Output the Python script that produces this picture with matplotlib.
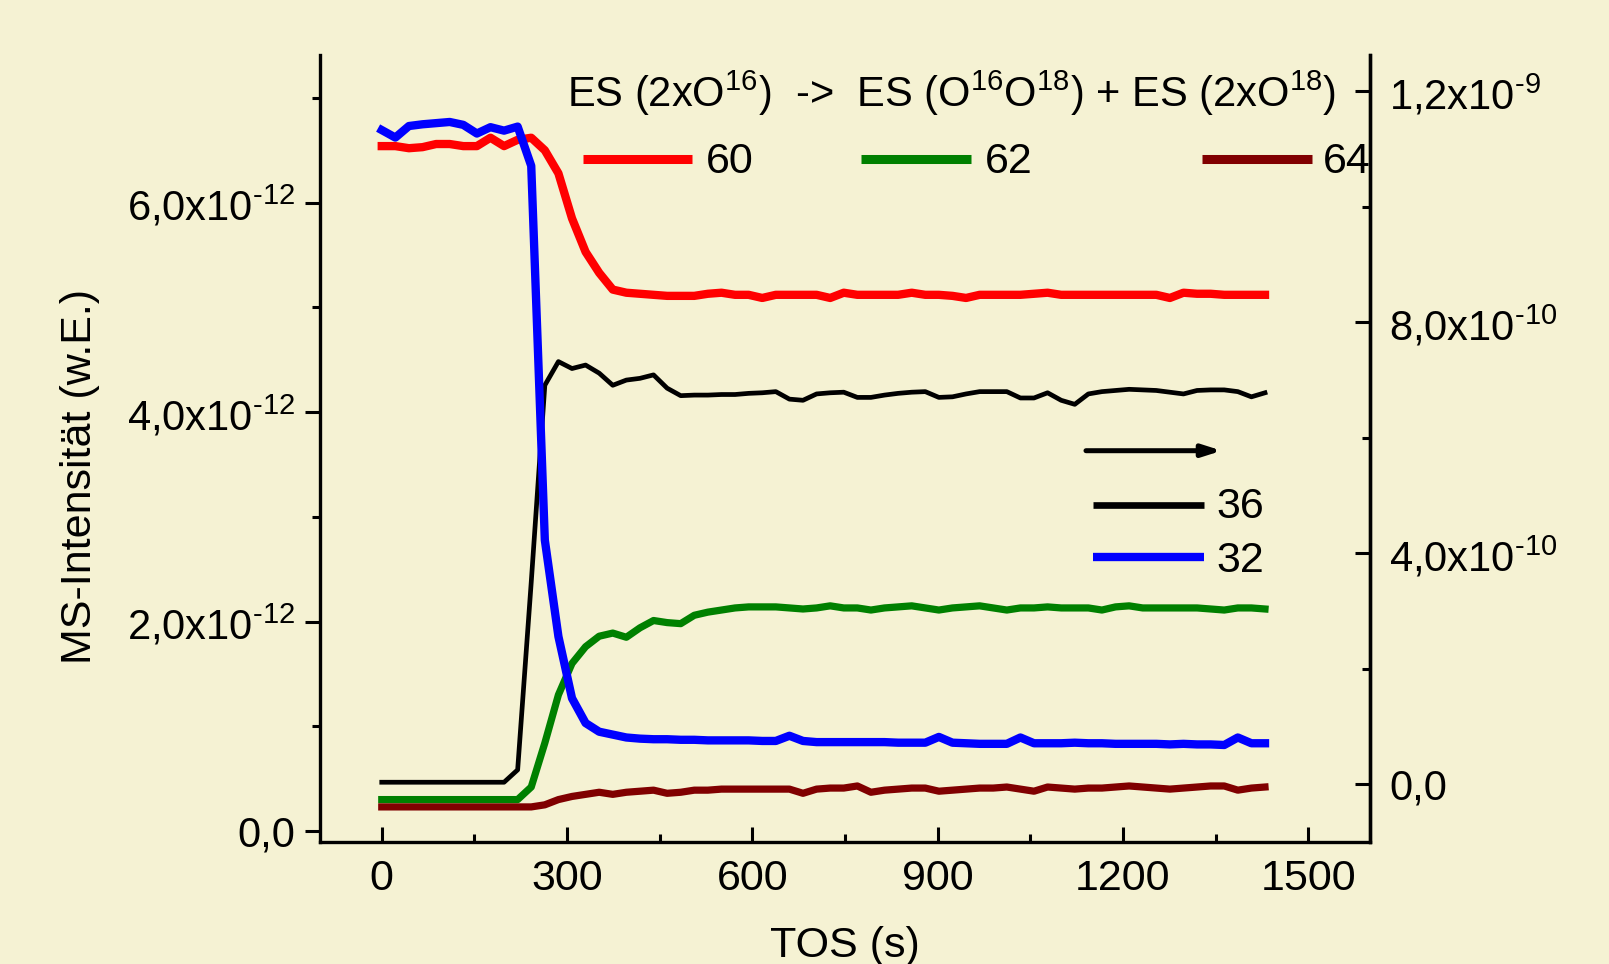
import numpy as np
import matplotlib
matplotlib.use("Agg")
import matplotlib.pyplot as plt
from matplotlib.ticker import FixedLocator, FixedFormatter, MultipleLocator

plt.rcParams["font.family"] = ["Liberation Sans", "DejaVu Sans"]
plt.rcParams["mathtext.fontset"] = "custom"
plt.rcParams["mathtext.rm"] = "Liberation Sans"
plt.rcParams["mathtext.default"] = "regular"

# time on stream (s)
tos = [0, 22, 44, 66, 88, 110, 132, 154, 176, 198, 220, 242, 264, 286, 308, 330,
       352, 374, 396, 418, 440, 462, 484, 506, 528, 550, 572, 594, 616, 638, 660,
       682, 704, 726, 748, 770, 792, 814, 836, 858, 880, 902, 924, 946, 968, 990,
       1012, 1034, 1056, 1078, 1100, 1122, 1144, 1166, 1188, 1210, 1232, 1254,
       1276, 1298, 1320, 1342, 1364, 1386, 1408, 1430]

# left axis, units of 1e-12
m60 = [6.54, 6.54, 6.52, 6.53, 6.56, 6.56, 6.54, 6.54, 6.62, 6.54, 6.60, 6.62,
       6.50, 6.28, 5.85, 5.53, 5.33, 5.17, 5.14, 5.13, 5.12, 5.11, 5.11, 5.11,
       5.13, 5.14, 5.12, 5.12, 5.09, 5.12, 5.12, 5.12, 5.12, 5.09, 5.14, 5.12,
       5.12, 5.12, 5.12, 5.14, 5.12, 5.12, 5.11, 5.09, 5.12, 5.12, 5.12, 5.12,
       5.13, 5.14, 5.12, 5.12, 5.12, 5.12, 5.12, 5.12, 5.12, 5.12, 5.09, 5.14,
       5.13, 5.13, 5.12, 5.12, 5.12, 5.12]
m62 = [0.30, 0.30, 0.30, 0.30, 0.30, 0.30, 0.30, 0.30, 0.30, 0.30, 0.30, 0.42,
       0.84, 1.30, 1.60, 1.76, 1.86, 1.89, 1.85, 1.94, 2.01, 1.99, 1.98, 2.06,
       2.09, 2.11, 2.13, 2.14, 2.14, 2.14, 2.13, 2.12, 2.13, 2.15, 2.13, 2.13,
       2.11, 2.13, 2.14, 2.15, 2.13, 2.11, 2.13, 2.14, 2.15, 2.13, 2.11, 2.13,
       2.13, 2.14, 2.13, 2.13, 2.13, 2.11, 2.14, 2.15, 2.13, 2.13, 2.13, 2.13,
       2.13, 2.12, 2.11, 2.13, 2.13, 2.12]
m64 = [0.23, 0.23, 0.23, 0.23, 0.23, 0.23, 0.23, 0.23, 0.23, 0.23, 0.23, 0.23,
       0.25, 0.30, 0.33, 0.35, 0.37, 0.35, 0.37, 0.38, 0.39, 0.36, 0.37, 0.39,
       0.39, 0.40, 0.40, 0.40, 0.40, 0.40, 0.40, 0.36, 0.40, 0.41, 0.41, 0.43,
       0.37, 0.39, 0.40, 0.41, 0.41, 0.38, 0.39, 0.40, 0.41, 0.41, 0.42, 0.40,
       0.38, 0.42, 0.41, 0.40, 0.41, 0.41, 0.42, 0.43, 0.42, 0.41, 0.40, 0.41,
       0.42, 0.43, 0.43, 0.39, 0.41, 0.42]

# right axis, units of 1e-10
m36 = [0.035, 0.035, 0.035, 0.035, 0.035, 0.035, 0.035, 0.035, 0.035, 0.035,
       0.25, 3.5, 6.91, 7.32, 7.20, 7.26, 7.12, 6.91, 7.00, 7.03, 7.09, 6.86,
       6.73, 6.74, 6.74, 6.75, 6.75, 6.77, 6.78, 6.80, 6.67, 6.65, 6.76, 6.78,
       6.79, 6.70, 6.70, 6.74, 6.77, 6.79, 6.80, 6.70, 6.71, 6.76, 6.80, 6.80,
       6.80, 6.69, 6.69, 6.78, 6.65, 6.58, 6.76, 6.80, 6.82, 6.84, 6.83, 6.82,
       6.79, 6.76, 6.82, 6.83, 6.83, 6.80, 6.71, 6.78]
m32 = [11.33, 11.20, 11.40, 11.43, 11.45, 11.47, 11.42, 11.27, 11.38, 11.32,
       11.39, 10.71, 4.23, 2.56, 1.49, 1.06, 0.91, 0.86, 0.81, 0.79, 0.78, 0.78,
       0.77, 0.77, 0.76, 0.76, 0.76, 0.76, 0.75, 0.75, 0.84, 0.75, 0.73, 0.73,
       0.73, 0.73, 0.73, 0.73, 0.72, 0.72, 0.72, 0.82, 0.72, 0.71, 0.70, 0.70,
       0.70, 0.81, 0.71, 0.71, 0.71, 0.72, 0.71, 0.71, 0.70, 0.70, 0.70, 0.70,
       0.69, 0.70, 0.69, 0.69, 0.68, 0.81, 0.71, 0.71]

HY = "\u2010"  # short hyphen as in the original exponents
left_ticks = [0, 2e-12, 4e-12, 6e-12]
left_labels = ["0,0", "2,0x10$^{%s12}$" % HY, "4,0x10$^{%s12}$" % HY,
               "6,0x10$^{%s12}$" % HY]
right_ticks = [0, 4e-10, 8e-10, 1.2e-9]
right_labels = ["0,0", "4,0x10$^{%s10}$" % HY, "8,0x10$^{%s10}$" % HY,
                "1,2x10$^{%s9}$" % HY]

bg = "#F5F2D3"
fig = plt.figure(figsize=(16.09, 9.64), dpi=100, facecolor=bg)
ax = fig.add_axes([320 / 1609, 1 - 842 / 964, 1050 / 1609, 787 / 964])
ax.set_facecolor(bg)
ax2 = ax.twinx()

t = np.array(tos)
ax.plot(t, np.array(m60) * 1e-12, color="#FF0000", lw=6)
ax.plot(t, np.array(m62) * 1e-12, color="#008000", lw=5.2)
ax.plot(t, np.array(m64) * 1e-12, color="#800000", lw=5.2)
ax2.plot(t, np.array(m36) * 1e-10, color="black", lw=3.4)
ax2.plot(t, np.array(m32) * 1e-10, color="#0000FF", lw=6)

ax.set_xlim(-100, 1600)
ax.set_ylim(-0.105e-12, 7.41e-12)
ax2.set_ylim(-1.0e-10, 12.63e-10)

ax.xaxis.set_major_locator(MultipleLocator(300))
ax.xaxis.set_minor_locator(MultipleLocator(150))
ax.yaxis.set_major_locator(FixedLocator(left_ticks))
ax.yaxis.set_major_formatter(FixedFormatter(left_labels))
ax.yaxis.set_minor_locator(MultipleLocator(1e-12))
ax2.yaxis.set_major_locator(FixedLocator(right_ticks))
ax2.yaxis.set_major_formatter(FixedFormatter(right_labels))
ax2.yaxis.set_minor_locator(MultipleLocator(2e-10))

for a in (ax, ax2):
    a.spines["top"].set_visible(False)
    for s in a.spines.values():
        s.set_linewidth(2.4)
ax2.spines["left"].set_visible(False)
ax2.spines["bottom"].set_visible(False)

ax.tick_params(axis="x", which="both", direction="in", width=2.2, labelsize=31, pad=12)
ax.tick_params(axis="x", which="major", length=11)
ax.tick_params(axis="x", which="minor", length=5.5)
ax.tick_params(axis="y", which="both", direction="out", width=2.2, labelsize=30, pad=7)
ax.tick_params(axis="y", which="major", length=11)
ax.tick_params(axis="y", which="minor", length=5.5)
ax2.tick_params(axis="y", which="both", direction="in", width=2.2, labelsize=30, pad=14)
ax2.tick_params(axis="y", which="major", length=11)
ax2.tick_params(axis="y", which="minor", length=5.5)

ax.set_xlabel("TOS (s)", fontsize=31, labelpad=20)
ax.set_ylabel("MS-Intensität (w.E.)", fontsize=31)
ax.yaxis.set_label_coords(-0.2095, 0.4638)

# legend block for the left axis
ax.text(0.2352, 0.9336,
        "ES (2xO$^{16}$)  ->  ES (O$^{16}$O$^{18}$) + ES (2xO$^{18}$)",
        transform=ax.transAxes, fontsize=30, va="baseline", ha="left")
for x0, x1, xt, col, lab in [(0.2505, 0.3543, 0.3676, "#FF0000", "60"),
                             (0.5157, 0.6200, 0.6330, "#008000", "62"),
                             (0.8400, 0.9448, 0.9552, "#800000", "64")]:
    ax.plot([x0, x1], [0.8675, 0.8675], transform=ax.transAxes, color=col,
            lw=6.5, solid_capstyle="butt", clip_on=False)
    ax.text(xt, 0.8497, lab, transform=ax.transAxes, fontsize=31,
            va="baseline", ha="left", zorder=5)

# legend block for the right axis
ax2.annotate("", xy=(0.8588, 0.4972), xytext=(0.7295, 0.4972),
             xycoords="axes fraction",
             arrowprops=dict(arrowstyle="-|>,head_length=1.1,head_width=0.35",
                             color="black", lw=3.6, shrinkA=0, shrinkB=0))
for y, yt, col, lw, lab in [(0.4282, 0.4113, "black", 4.8, "36"),
                            (0.3618, 0.3435, "#0000FF", 6.0, "32")]:
    ax2.plot([0.7362, 0.8419], [y, y], transform=ax2.transAxes, color=col,
             lw=lw, solid_capstyle="butt")
    ax2.text(0.8533, yt, lab, transform=ax2.transAxes, fontsize=31,
             va="baseline", ha="left")

fig.savefig("out.png", dpi=100, facecolor=bg)
